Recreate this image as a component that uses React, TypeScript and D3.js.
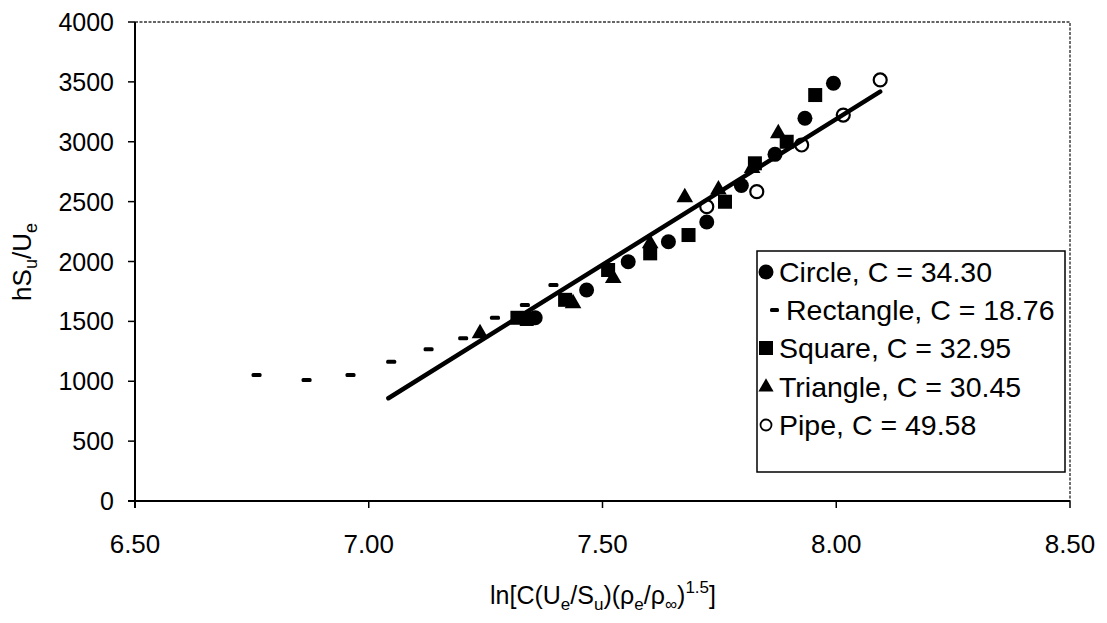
import React from "react";
import * as d3 from "d3";

const xTicks = [6.5, 7.0, 7.5, 8.0, 8.5];
const yTicks = [0, 500, 1000, 1500, 2000, 2500, 3000, 3500, 4000];

const circleX = [7.356, 7.466, 7.555, 7.641, 7.723, 7.797, 7.869, 7.933, 7.994];
const circleY = [1530, 1762, 1998, 2165, 2330, 2635, 2895, 3196, 3488];

const rectX = [6.76, 6.867, 6.961, 7.048, 7.128, 7.202, 7.27, 7.334, 7.395];
const rectY = [1052, 1010, 1052, 1163, 1267, 1359, 1531, 1637, 1804];

const squareX = [7.318, 7.338, 7.42, 7.512, 7.602, 7.684, 7.762, 7.826, 7.894, 7.955];
const squareY = [1530, 1520, 1680, 1929, 2068, 2221, 2499, 2820, 3000, 3390];

const triX = [7.238, 7.437, 7.523, 7.602, 7.676, 7.748, 7.82, 7.876];
const triY = [1400, 1650, 1860, 2150, 2535, 2600, 2780, 3070];

const pipeX = [7.723, 7.83, 7.926, 8.015, 8.094];
const pipeY = [2458, 2583, 2973, 3223, 3516];

const fitX = [7.042, 8.094];
const fitY = [858, 3418];

const legendLabels = [
  "Circle, C = 34.30",
  "Rectangle, C = 18.76",
  "Square, C = 32.95",
  "Triangle, C = 30.45",
  "Pipe, C = 49.58",
];

const FONT = "'Liberation Sans', Arial, Helvetica, sans-serif";

const zip = (xs: number[], ys: number[]) => xs.map((x, i) => [x, ys[i]] as [number, number]);

export default function App() {
  const W = 1107;
  const H = 623;
  const x = d3.scaleLinear().domain([6.5, 8.5]).range([135, 1070]);
  const y = d3.scaleLinear().domain([0, 4000]).range([501, 22]);
  const x0 = x(6.5), x1 = x(8.5), y0 = y(0), y1 = y(4000);

  const tri = d3.symbol().type(d3.symbolTriangle).size(120)()!;
  const triSmall = d3.symbol().type(d3.symbolTriangle).size(100)()!;
  const line = d3.line<[number, number]>().x((d) => x(d[0])).y((d) => y(d[1]));

  const legX = 757, legY = 251, legW = 308, legH = 221;
  const rowY = [272, 310, 348, 387, 425];

  return (
    <svg width={W} height={H} style={{ position: "absolute", left: 0, top: 0, background: "#fff" }} fontFamily={FONT}>
      <rect x={0} y={0} width={W} height={H} fill="#fff" />
      {/* plot frame top/right (dotted) */}
      <path d={`M${x0},${y1}H${x1}V${y0}`} fill="none" stroke="#333" strokeWidth={1.4} strokeDasharray="3 1.5" />
      {/* axes */}
      <line x1={x0} x2={x0} y1={y1} y2={y0 + 7} stroke="#000" strokeWidth={2} />
      <line x1={x0 - 7} x2={x1} y1={y0} y2={y0} stroke="#000" strokeWidth={2} />
      {yTicks.map((t) => (
        <g key={"yt" + t}>
          <line x1={x0 - 7} x2={x0} y1={y(t)} y2={y(t)} stroke="#000" strokeWidth={1.5} />
          <text x={114} y={y(t)} dy="0.36em" textAnchor="end" fontSize={25} fill="#000">
            {t}
          </text>
        </g>
      ))}
      {xTicks.map((t) => (
        <g key={"xt" + t}>
          <line x1={x(t)} x2={x(t)} y1={y0} y2={y0 + 7} stroke="#000" strokeWidth={1.5} />
          <text x={x(t)} y={553} textAnchor="middle" fontSize={26} fill="#000">
            {t.toFixed(2)}
          </text>
        </g>
      ))}
      {/* axis titles */}
      <text transform="translate(31,262) rotate(-90)" textAnchor="middle" fontSize={26} fill="#000">
        hS<tspan dy={6} fontSize={18}>u</tspan>
        <tspan dy={-6}>/U</tspan>
        <tspan dy={6} fontSize={18}>e</tspan>
      </text>
      <text x={603} y={604} textAnchor="middle" fontSize={25} fill="#000">
        ln[C(U<tspan dy={6} fontSize={17}>e</tspan>
        <tspan dy={-6}>/S</tspan>
        <tspan dy={6} fontSize={17}>u</tspan>
        <tspan dy={-6}>)(ρ</tspan>
        <tspan dy={6} fontSize={17}>e</tspan>
        <tspan dy={-6}>/ρ</tspan>
        <tspan dy={6} fontSize={17}>∞</tspan>
        <tspan dy={-6}>)</tspan>
        <tspan dy={-11} fontSize={17}>1.5</tspan>
        <tspan dy={11}>]</tspan>
      </text>

      {/* series */}
      {zip(circleX, circleY).map((d, i) => (
        <circle key={"c" + i} cx={x(d[0])} cy={y(d[1])} r={7.5} fill="#000" />
      ))}
      {zip(rectX, rectY).map((d, i) => (
        <rect key={"r" + i} x={x(d[0]) - 5} y={y(d[1]) - 2} width={10} height={4} rx={1.5} fill="#000" />
      ))}
      {zip(squareX, squareY).map((d, i) => (
        <rect key={"s" + i} x={x(d[0]) - 7} y={y(d[1]) - 7} width={14} height={14} fill="#000" />
      ))}
      {zip(triX, triY).map((d, i) => (
        <path key={"t" + i} d={tri} transform={`translate(${x(d[0])},${y(d[1])})`} fill="#000" />
      ))}
      {zip(pipeX, pipeY).map((d, i) => (
        <circle key={"p" + i} cx={x(d[0])} cy={y(d[1])} r={6.5} fill="#fff" stroke="#000" strokeWidth={2.2} />
      ))}
      {/* fit line */}
      <path d={line(zip(fitX, fitY))!} fill="none" stroke="#000" strokeWidth={4.5} strokeLinecap="round" />

      {/* legend */}
      <rect x={legX} y={legY} width={legW} height={legH} fill="#fff" stroke="#000" strokeWidth={1.5} />
      <circle cx={766} cy={rowY[0]} r={7.5} fill="#000" />
      <rect x={770} y={rowY[1] - 2} width={9} height={4} rx={1.5} fill="#000" />
      <rect x={759} y={rowY[2] - 7} width={14} height={14} fill="#000" />
      <path d={triSmall} transform={`translate(766,${rowY[3]})`} fill="#000" />
      <circle cx={766} cy={rowY[4]} r={5.5} fill="#fff" stroke="#000" strokeWidth={1.8} />
      {legendLabels.map((l, i) => (
        <text key={l} x={i === 1 ? 786 : 779} y={rowY[i]} dy="0.36em" fontSize={28.5} fill="#000">
          {l}
        </text>
      ))}
    </svg>
  );
}
